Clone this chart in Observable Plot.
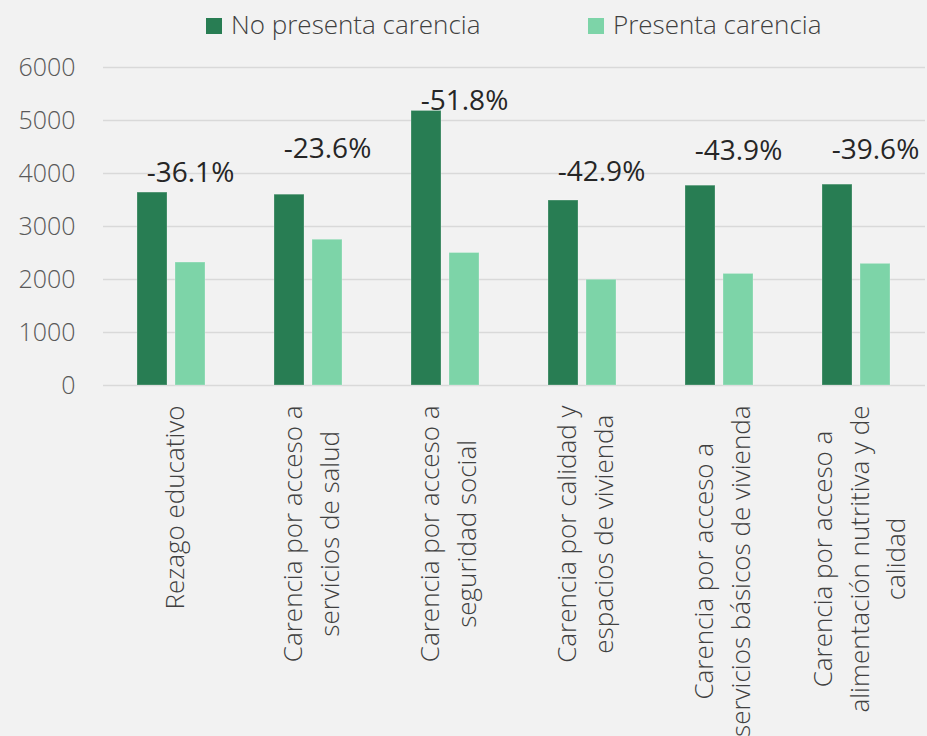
<!DOCTYPE html>
<html><head><meta charset="utf-8">
<script src="https://cdn.jsdelivr.net/npm/d3@7"></script>
<script src="https://cdn.jsdelivr.net/npm/@observablehq/plot@0.6"></script>
<style>
html,body{margin:0;padding:0;background:#f2f2f2;}
body{width:927px;height:736px;overflow:hidden;font-family:"Open Sans",sans-serif;}
#legend{position:relative;height:50px;}
.item{position:absolute;top:6px;height:36px;line-height:36px;font-size:26px;color:#404040;font-weight:300;white-space:nowrap}
.sw{position:absolute;width:16px;height:16px;top:12px;left:0}
.lab{position:absolute;left:25px;top:0}
#chart svg{display:block}
</style></head><body>
<div id="legend"></div>
<div id="chart"></div>
<script>
const categories = [
  "Rezago educativo",
  "Carencia por acceso a servicios de salud",
  "Carencia por acceso a seguridad social",
  "Carencia por calidad y espacios de vivienda",
  "Carencia por acceso a servicios básicos de vivienda",
  "Carencia por acceso a alimentación nutritiva y de calidad"
];
const categoryLabels = [
  "Rezago educativo",
  "Carencia por acceso a\nservicios de salud",
  "Carencia por acceso a\nseguridad social",
  "Carencia por calidad y\nespacios de vivienda",
  "Carencia por acceso a\nservicios básicos de vivienda",
  "Carencia por acceso a\nalimentación nutritiva y de\ncalidad"
];
const seriesNames = ["No presenta carencia", "Presenta carencia"];
const seriesColors = ["#287d53", "#7dd4a8"];
const noPresenta = [3640, 3600, 5180, 3490, 3770, 3790];
const presenta = [2320, 2750, 2500, 1995, 2105, 2295];
const changeLabels = ["-36.1%", "-23.6%", "-51.8%", "-42.9%", "-43.9%", "-39.6%"];
const changeLabelY = [3840, 4290, 5190, 3850, 4260, 4280];
const yTicks = [0, 1000, 2000, 3000, 4000, 5000, 6000];

// legend
const legend = document.getElementById("legend");
const legendLeft = [206, 588];
seriesNames.forEach((s, i) => {
  const it = document.createElement("div");
  it.className = "item";
  it.style.left = legendLeft[i] + "px";
  const sw = document.createElement("span");
  sw.className = "sw"; sw.style.background = seriesColors[i];
  const lab = document.createElement("span");
  lab.className = "lab"; lab.textContent = s;
  it.append(sw, lab);
  legend.append(it);
});

const rows = categories.flatMap((c, i) => [
  {category: c, series: seriesNames[0], value: noPresenta[i]},
  {category: c, series: seriesNames[1], value: presenta[i]}
]);
const labelRows = categories.map((c, i) => ({category: c, label: changeLabels[i], y: changeLabelY[i]}));

const chart = Plot.plot({
  width: 927,
  height: 686,
  marginLeft: 101,
  marginRight: 0,
  marginTop: 17,
  marginBottom: 351,
  style: {background: "transparent", fontFamily: '"Open Sans", sans-serif', overflow: "visible"},
  fx: {domain: categories, paddingInner: 0, paddingOuter: 0, axis: null, label: null},
  x: {domain: seriesNames, paddingInner: 0.205, paddingOuter: 0.866, axis: null},
  y: {domain: [0, 6000], axis: null},
  color: {domain: seriesNames, range: seriesColors},
  marks: [
    Plot.ruleY(yTicks, {stroke: "#d9d9d9", strokeWidth: 1.6}),
    Plot.barY(rows, {fx: "category", x: "series", y: "value", fill: "series", stroke: "#ffffff", strokeOpacity: 0.25, strokeWidth: 1}),
    Plot.text(labelRows, {fx: "category", x: () => seriesNames[1], y: "y", text: "label", fontSize: 28, fill: "#262626", lineAnchor: "bottom"}),
    Plot.axisY(yTicks, {tickSize: 0, tickPadding: 28, fontSize: 25, color: "#595959", fontWeight: 300, tickFormat: d => String(d), label: null}),
    Plot.text(categories, {fx: d => d, text: (d, i) => categoryLabels[i], frameAnchor: "bottom", rotate: -90, textAnchor: "end", lineAnchor: "middle", dy: 20, fontSize: 26, lineHeight: 1.4, fill: "#404040", fontWeight: 300})
  ]
});
document.getElementById("chart").append(chart);

// center each line of the wrapped category labels within its block (Excel-style)
chart.querySelectorAll("text").forEach(t => {
  const spans = t.querySelectorAll("tspan");
  if (spans.length < 2) return;
  const w = t.getBBox().width;
  t.setAttribute("text-anchor", "middle");
  spans.forEach(s => s.setAttribute("x", -w / 2));
});
</script>
</body></html>
